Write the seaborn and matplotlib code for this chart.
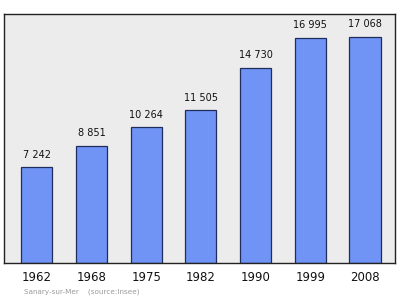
import matplotlib
matplotlib.use("Agg")
import matplotlib.pyplot as plt
import seaborn as sns
import pandas as pd

years = ["1962", "1968", "1975", "1982", "1990", "1999", "2008"]
population = [7242, 8851, 10264, 11505, 14730, 16995, 17068]
labels = ["7 242", "8 851", "10 264", "11 505", "14 730", "16 995", "17 068"]

df = pd.DataFrame({"year": years, "pop": population})

sns.set_theme(style="white")
plt.rcParams['font.family'] = ['DejaVu Sans']

fig = plt.figure(figsize=(4.0, 2.99), dpi=100)
ax = fig.add_axes([4/400, 1 - 263/299, 391/400, 249/299])
ax.set_facecolor("#ececec")

sns.barplot(data=df, x="year", y="pop", ax=ax, color="#7094f5",
            width=0.57, edgecolor="#1f2c5c", linewidth=0.9, saturation=1)

for i, (v, t) in enumerate(zip(population, labels)):
    ax.text(i, v + 550, t, ha="center", va="bottom", fontsize=7, color="#111111")

ax.set_xlim(-0.6, 6.55)
ax.set_ylim(0, 18780)
ax.set_yticks([])
ax.set_xlabel("")
ax.set_ylabel("")
ax.tick_params(axis="x", length=0, pad=6, labelsize=8.5, labelcolor="#111111")
for s in ax.spines.values():
    s.set_color("#222222")
    s.set_linewidth(1.0)

fig.text(24/400, 1 - 292/299, "Sanary-sur-Mer    (source:Insee)", fontsize=5.2,
         color="#9a9a9a", ha="left", va="center")

fig.savefig("out.png", dpi=100)
